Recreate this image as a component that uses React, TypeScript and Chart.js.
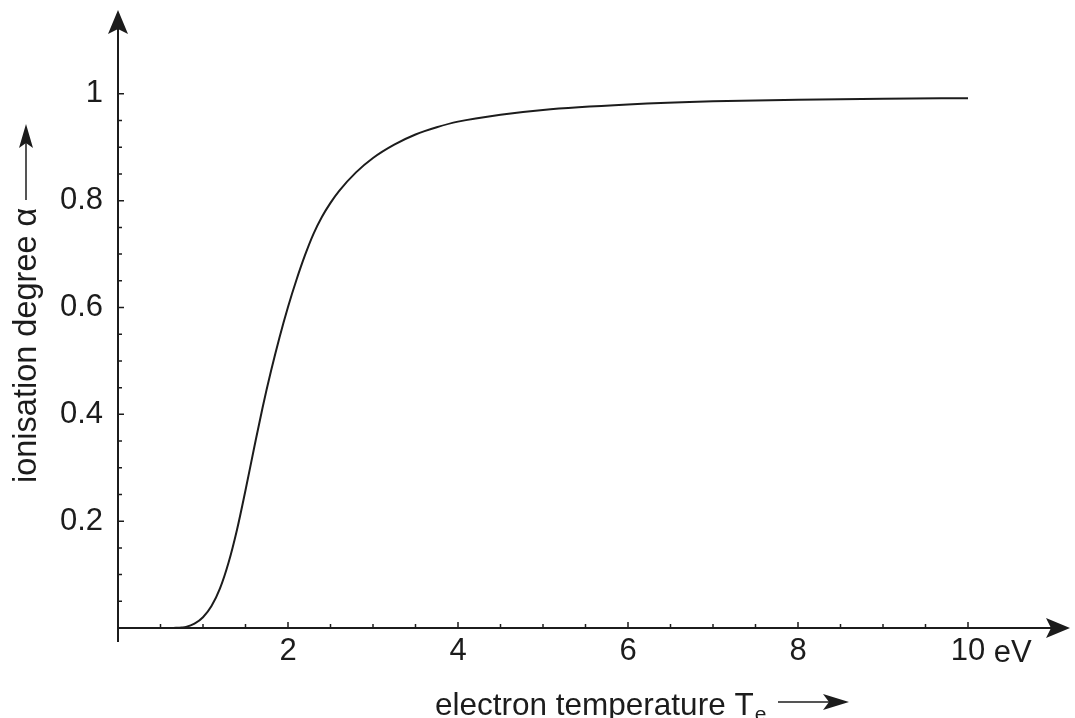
import React, { useEffect, useRef } from 'react';
import { Chart, registerables } from 'chart.js';

Chart.register(...registerables);

// ---- data ----
const temperature = [0.65, 0.75, 0.8, 0.9, 1.0, 1.1, 1.2, 1.3, 1.4, 1.5, 1.6, 1.7, 1.8, 1.9, 2.0, 2.1, 2.2, 2.3, 2.4, 2.5, 2.6, 2.8, 3.0, 3.25, 3.5, 3.75, 4.0, 4.5, 5.0, 6.0, 7.0, 8.0, 9.0, 10.0];
const ionisation = [0.0, 0.001, 0.002, 0.008, 0.02, 0.041, 0.074, 0.122, 0.184, 0.258, 0.336, 0.412, 0.481, 0.544, 0.601, 0.652, 0.698, 0.738, 0.77, 0.796, 0.818, 0.853, 0.88, 0.905, 0.924, 0.9375, 0.948, 0.961, 0.97, 0.98, 0.986, 0.989, 0.991, 0.992];
const xTickLabels = [2, 4, 6, 8, 10];
const yTickLabels = [0.2, 0.4, 0.6, 0.8, 1];
const xMinorStep = 0.5;
const yMinorStep = 0.05;
const xTickEnd = 10;
const yTickEnd = 1;
const xUnit = 'eV';
const xAxisTitle = 'electron temperature T';
const xAxisSub = 'e';
const yAxisTitle = 'ionisation degree \u03b1';

const FONT = '"Liberation Sans", Arial, Helvetica, sans-serif';
const INK = '#1c1c1c';
const TICK_FONT_SIZE = 31;

function arrowHead(ctx: CanvasRenderingContext2D, tx: number, ty: number, dx: number, dy: number, len: number, half: number, notch: number) {
  const px = -dy, py = dx;
  const bx = tx - dx * len, by = ty - dy * len;
  ctx.beginPath();
  ctx.moveTo(tx, ty);
  ctx.lineTo(bx + px * half, by + py * half);
  ctx.lineTo(tx - dx * (len - notch), ty - dy * (len - notch));
  ctx.lineTo(bx - px * half, by - py * half);
  ctx.closePath();
  ctx.fill();
}

const decorPlugin = {
  id: 'decor',
  afterDraw(chart: any) {
    const ctx: CanvasRenderingContext2D = chart.ctx;
    const xs = chart.scales.x;
    const ys = chart.scales.y;
    const x0 = xs.getPixelForValue(0);
    const y0 = ys.getPixelForValue(0);
    const area = chart.chartArea;
    ctx.save();
    ctx.strokeStyle = INK;
    ctx.fillStyle = INK;
    ctx.lineWidth = 2;
    // axes
    ctx.beginPath();
    ctx.moveTo(x0, y0 + 14);
    ctx.lineTo(x0, area.top + 12);
    ctx.moveTo(x0, y0);
    ctx.lineTo(area.right - 12, y0);
    ctx.stroke();
    arrowHead(ctx, x0, area.top, 0, -1, 24, 10, 5);
    arrowHead(ctx, area.right, y0, 1, 0, 24, 10, 5);
    // tick marks
    ctx.lineWidth = 1.5;
    ctx.beginPath();
    for (let i = 1; i * xMinorStep <= xTickEnd + 1e-9; i++) {
      const v = i * xMinorStep;
      const major = xTickLabels.some((t) => Math.abs(t - v) < 1e-6);
      const px = xs.getPixelForValue(v);
      ctx.moveTo(px, y0);
      ctx.lineTo(px, y0 - (major ? 6 : 4));
    }
    for (let i = 1; i * yMinorStep <= yTickEnd + 1e-9; i++) {
      const v = i * yMinorStep;
      const major = yTickLabels.some((t) => Math.abs(t - v) < 1e-6);
      const py = ys.getPixelForValue(v);
      ctx.moveTo(x0, py);
      ctx.lineTo(x0 + (major ? 6 : 4), py);
    }
    ctx.stroke();
    // unit after last x label
    ctx.font = `${TICK_FONT_SIZE}px ${FONT}`;
    ctx.textBaseline = 'alphabetic';
    ctx.textAlign = 'left';
    const lastLabel = String(xTickLabels[xTickLabels.length - 1]);
    const lx = xs.getPixelForValue(xTickLabels[xTickLabels.length - 1]) + ctx.measureText(lastLabel).width / 2 + ctx.measureText(' ').width;
    ctx.fillText(xUnit, lx, 662);
    // x title
    const tx = 435, tyB = 715;
    ctx.font = `31.5px ${FONT}`;
    ctx.fillText(xAxisTitle, tx, tyB);
    const tw = ctx.measureText(xAxisTitle).width;
    ctx.font = `21px ${FONT}`;
    ctx.fillText(xAxisSub, tx + tw + 1, tyB + 6);
    ctx.lineWidth = 1.5;
    ctx.beginPath();
    ctx.moveTo(778, 702);
    ctx.lineTo(835, 702);
    ctx.stroke();
    arrowHead(ctx, 849, 702, 1, 0, 26, 8, 6);
    // y title (rotated)
    ctx.save();
    ctx.translate(36, 483);
    ctx.rotate(-Math.PI / 2);
    ctx.font = `32.5px ${FONT}`;
    ctx.fillText(yAxisTitle, 0, 0);
    ctx.restore();
    ctx.beginPath();
    ctx.moveTo(26, 200);
    ctx.lineTo(26, 140);
    ctx.stroke();
    arrowHead(ctx, 26, 124, 0, -1, 24, 7, 5);
    ctx.restore();
  },
};

export default function App() {
  const ref = useRef<HTMLCanvasElement | null>(null);
  useEffect(() => {
    document.body.style.margin = '0';
    if (!ref.current) return;
    const points = temperature.map((t, i) => ({ x: t, y: ionisation[i] }));
    const chart = new Chart(ref.current, {
      type: 'line',
      data: {
        datasets: [
          {
            data: points,
            borderColor: INK,
            borderWidth: 2,
            pointRadius: 0,
            fill: false,
            cubicInterpolationMode: 'monotone',
          },
        ],
      },
      options: {
        responsive: false,
        animation: false,
        layout: { padding: { top: 10, right: 5, left: 0, bottom: 0 } },
        plugins: { legend: { display: false }, tooltip: { enabled: false } },
        scales: {
          x: {
            type: 'linear',
            min: 0,
            max: 11.2,
            grid: { display: false, drawTicks: false },
            border: { display: false },
            afterBuildTicks: (s: any) => {
              s.ticks = xTickLabels.map((v) => ({ value: v }));
            },
            ticks: {
              autoSkip: false,
              maxRotation: 0,
              padding: 5,
              color: INK,
              font: { family: FONT, size: TICK_FONT_SIZE },
              callback: (v: any) => String(v),
            },
            afterFit: (s: any) => {
              s.height = 90;
              s.paddingLeft = 0;
              s.paddingRight = 0;
            },
          },
          y: {
            type: 'linear',
            min: 0,
            max: 1.157,
            grid: { display: false, drawTicks: false },
            border: { display: false },
            afterBuildTicks: (s: any) => {
              s.ticks = yTickLabels.map((v) => ({ value: v }));
            },
            ticks: {
              autoSkip: false,
              padding: 15,
              color: INK,
              font: { family: FONT, size: TICK_FONT_SIZE },
              callback: (v: any) => String(v),
            },
            afterFit: (s: any) => {
              s.width = 118;
              s.paddingTop = 0;
              s.paddingBottom = 0;
            },
          },
        },
      },
      plugins: [decorPlugin],
    });
    return () => chart.destroy();
  }, []);
  return (
    <div style={{ position: 'absolute', left: 0, top: 0, width: 1075, height: 718, background: '#fff' }}>
      <canvas ref={ref} width={1075} height={718} />
    </div>
  );
}
